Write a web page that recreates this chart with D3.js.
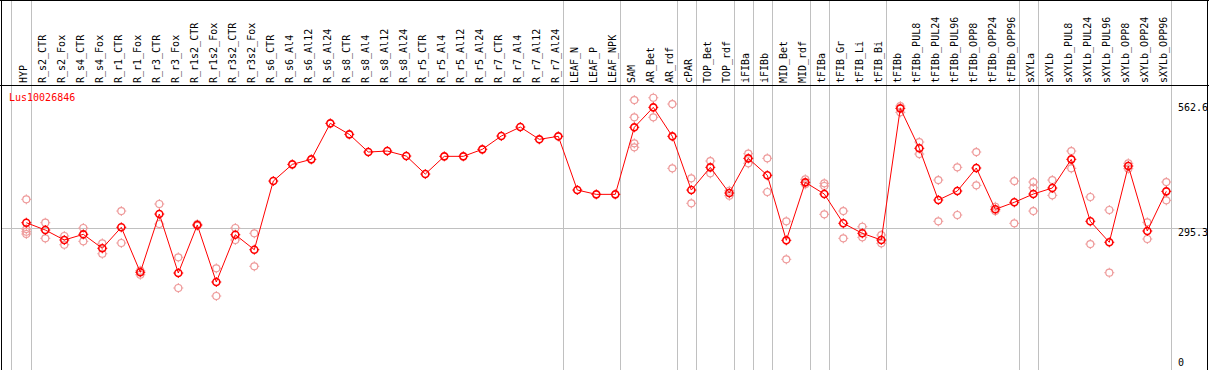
<!DOCTYPE html>
<html>
<head>
<meta charset="utf-8">
<script src="https://cdn.jsdelivr.net/npm/d3@7"></script>
<style>
  html, body { margin: 0; padding: 0; background: #fff; }
  svg { display: block; }
  text { font-family: "DejaVu Sans Mono", monospace; font-size: 10px; }
</style>
</head>
<body>
<svg id="chart" width="1209" height="370"></svg>
<script>
const geneName = "Lus10026846";

const categories = ["HYP","R_s2_CTR","R_s2_Fox","R_s4_CTR","R_s4_Fox","R_r1_CTR","R_r1_Fox","R_r3_CTR","R_r3_Fox",
  "R_r1s2_CTR","R_r1s2_Fox","R_r3s2_CTR","R_r3s2_Fox","R_s6_CTR","R_s6_Al4","R_s6_Al12","R_s6_Al24",
  "R_s8_CTR","R_s8_Al4","R_s8_Al12","R_s8_Al24","R_r5_CTR","R_r5_Al4","R_r5_Al12","R_r5_Al24",
  "R_r7_CTR","R_r7_Al4","R_r7_Al12","R_r7_Al24","LEAF_N","LEAF_P","LEAF_NPK","SAM","AR_Bet","AR_rdf",
  "cPAR","TOP_Bet","TOP_rdf","iFIBa","iFIBb","MID_Bet","MID_rdf","tFIBa","tFIB_Gr","tFIB_Li","tFIB_Bi",
  "tFIBb","tFIBb_PUL8","tFIBb_PUL24","tFIBb_PUL96","tFIBb_OPP8","tFIBb_OPP24","tFIBb_OPP96",
  "sXYLa","sXYLb","sXYLb_PUL8","sXYLb_PUL24","sXYLb_PUL96","sXYLb_OPP8","sXYLb_OPP24","sXYLb_OPP96"];

// mean expression per sample
const meanValues = [307.2,291.6,270.3,282.4,252.6,297.4,201.4,325.7,199.9,
  302.3,180.7,281.6,249.6,396.1,431.7,442.4,519.2,
  495.7,458.0,460.1,449.4,411.0,448.8,448.8,463.7,
  492.1,511.3,485.1,491.5,376.9,367.7,367.7,510.7,553.3,491.5,
  376.9,425.3,370.5,444.5,408.3,269.6,393.3,368.4,305.9,284.6,270.3,
  551.2,465.9,355.6,374.8,423.9,335.8,350.7,
  368.4,381.2,442.4,310.2,265.4,428.1,289.5,374.1];

// replicate values per sample
const replicateValues = [
  [357.1,293.7,288.0,283.1],[307.2,273.9],[278.8,260.2],[295.9,267.5],[263.2,241.0],[332.1,263.9],[204.8,196.2],[347.1,304.4],[233.4,167.9],
  [300.5,304.0],[209.9,150.8],[295.9,270.3],[284.6,214.2],[],[],[],[],
  [],[],[],[],[],[],[],[],
  [],[],[],[],[],[],[],[568.9,532.0,476.5,468.0],[573.8,532.0],[560.4,423.2],
  [401.9,348.6],[438.8,412.5],[375.4,364.8],[454.4,433.9],[444.5,372.7],[310.2,229.1],[399.7,389.1],[391.2,385.5,325.1],[332.1,273.9],[298.6,276.0],[280.9,263.2],
  [556.1,542.7],[479.3,453.7],[398.2,310.2],[425.3,323.6],[458.0,386.9],[341.3,332.1],[396.1,305.9],
  [394.0,381.8,332.1],[398.2,365.6],[460.1,423.2],[362.0,261.7],[334.3,200.5],[433.9,422.4],[308.0,272.4],[394.0,354.9]];

const tickValues = [0, 295.3, 562.6];
const groupEnds = ["HYP","R_r7_Al24","LEAF_NPK","AR_rdf","cPAR","TOP_rdf","iFIBa","iFIBb","MID_rdf","tFIBa","tFIB_Bi","tFIBb_OPP96","sXYLa","sXYLb_OPP96"];

const W = 1209, H = 370;
const svg = d3.select("#chart");

const x = d3.scalePoint().domain(categories).range([26.3, 1166.3]);
const y = d3.scaleLinear().domain([0, 562.6]).range([366.7, 103]);

const grey = "#c0c0c0";
const red = "#ff0000";
const pink = "#ee9a9a";

// vertical group separators (full height)
const sepX = [x(categories[0]) - 15.6].concat(groupEnds.map(c => x(c) + 4.4));
svg.append("g").selectAll("line").data(sepX).join("line")
  .attr("x1", d => Math.round(d) + 0.5).attr("x2", d => Math.round(d) + 0.5)
  .attr("y1", 0).attr("y2", H)
  .attr("stroke", grey).attr("stroke-width", 1);

// horizontal mid grid line
svg.append("line")
  .attr("x1", 1).attr("x2", W - 1)
  .attr("y1", Math.round(y(295.3)) + 0.5).attr("y2", Math.round(y(295.3)) + 0.5)
  .attr("stroke", grey).attr("stroke-width", 1);

// frame lines
svg.append("line").attr("x1", 0).attr("x2", W).attr("y1", 0.5).attr("y2", 0.5).attr("stroke", "#000");
svg.append("line").attr("x1", 0).attr("x2", W).attr("y1", 85.5).attr("y2", 85.5).attr("stroke", "#000");
svg.append("line").attr("x1", 1.5).attr("x2", 1.5).attr("y1", 0).attr("y2", H).attr("stroke", "#000");
svg.append("line").attr("x1", W - 1.5).attr("x2", W - 1.5).attr("y1", 0).attr("y2", H).attr("stroke", "#000");

// header labels (rotated)
svg.append("g").selectAll("text").data(categories).join("text")
  .attr("transform", d => `translate(${x(d) + 1},83) rotate(-90)`)
  .attr("text-anchor", "start")
  .attr("fill", "#000")
  .text(d => d);

// right axis labels
const axisG = svg.append("g");
tickValues.forEach(v => {
  axisG.append("text")
    .attr("x", 1178)
    .attr("y", v === 0 ? y(v) - 0.5 : y(v) + 8)
    .attr("fill", "#000")
    .text(v === 0 ? "0" : v.toFixed(1));
});

// gene label
svg.append("text").attr("x", 9).attr("y", 100.5).attr("fill", red).text(geneName);

// marker helper
function marker(g, cx, cy, color, sw) {
  g.append("circle").attr("cx", cx).attr("cy", cy).attr("r", 3.5)
    .attr("fill", "none").attr("stroke", color).attr("stroke-width", sw);
  const t = [[0,-3.5,0,-5],[0,3.5,0,5],[-3.5,0,-5,0],[3.5,0,5,0]];
  t.forEach(s => g.append("line")
    .attr("x1", cx + s[0]).attr("y1", cy + s[1]).attr("x2", cx + s[2]).attr("y2", cy + s[3])
    .attr("stroke", color).attr("stroke-width", 1));
}

// replicate points
const repG = svg.append("g");
categories.forEach((c, i) => {
  replicateValues[i].forEach(v => marker(repG, x(c), y(v), pink, 1.2));
});

// mean line
const line = d3.line().x((d, i) => x(categories[i])).y(d => y(d));
svg.append("path").datum(meanValues)
  .attr("d", line).attr("fill", "none").attr("stroke", red).attr("stroke-width", 1);

// mean markers
const mG = svg.append("g");
categories.forEach((c, i) => marker(mG, x(c), y(meanValues[i]), red, 1.6));
</script>
</body>
</html>
